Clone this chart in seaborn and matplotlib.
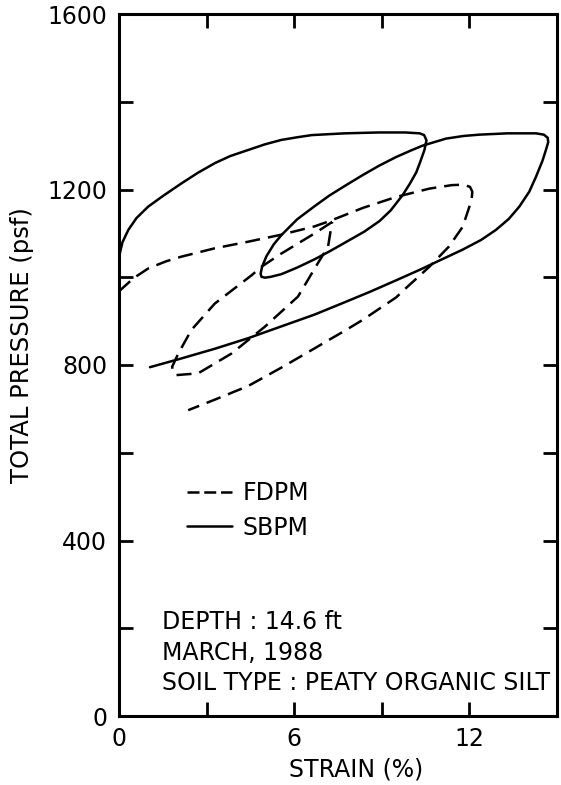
import matplotlib
matplotlib.use("Agg")
import matplotlib.pyplot as plt
from matplotlib.lines import Line2D
import seaborn as sns
import pandas as pd

# ---------------- data ----------------
# SBPM (solid) : one continuous path
sbpm_strain = [0.0, 0.03, 0.12, 0.32, 0.6, 1.0, 1.5, 2.14, 2.7, 3.28, 3.8, 4.42, 5.0, 5.56,
               6.1, 6.6, 7.73, 8.9, 9.8, 10.3, 10.45, 10.53, 10.46, 10.3, 10.18, 9.95, 9.71,
               9.3, 8.92, 8.4, 7.9, 7.21, 6.7, 6.1, 5.56, 5.2, 5.0, 4.88, 4.85, 4.9, 5.05,
               5.3, 5.56, 6.1, 6.7, 7.2, 7.73, 8.35, 8.9, 9.49, 10.0, 10.4, 10.8, 11.2, 11.8,
               12.34, 13.3, 14.28, 14.55, 14.68, 14.7, 14.62, 14.5, 14.28, 14.05, 13.71,
               13.35, 12.91, 12.4, 11.77, 10.97, 10.3, 9.49, 8.6, 7.73, 6.7, 5.56, 4.42,
               3.28, 2.14, 1.06]
sbpm_pressure = [1015, 1055, 1080, 1108, 1135, 1161, 1185, 1214, 1238, 1260, 1276, 1290, 1303,
                 1313, 1319, 1324, 1328, 1330, 1330, 1328, 1324, 1312, 1290, 1260, 1239, 1212,
                 1187, 1152, 1128, 1104, 1085, 1059, 1041, 1022, 1007, 1001, 999, 1001, 1008,
                 1024, 1048, 1075, 1096, 1132, 1162, 1186, 1208, 1233, 1254, 1274, 1289,
                 1300, 1308, 1316, 1322, 1325, 1328, 1328, 1325, 1318, 1308, 1290, 1265, 1229,
                 1195, 1161, 1133, 1108, 1085, 1063, 1038, 1017, 993, 967, 943, 915, 888,
                 861, 837, 815, 795]

# FDPM (dashed) : large path
fdpm1_strain = [0.0, 0.5, 1.0, 1.6, 2.14, 3.28, 4.42, 5.56, 6.7, 7.21, 8.35, 9.49, 10.63,
                11.4, 11.8, 12.02, 12.1, 12.08, 12.0, 11.77, 11.3, 10.63, 9.84, 9.49, 8.35,
                7.73, 7.21, 6.7, 5.56, 4.42, 3.28, 2.37]
fdpm1_pressure = [968, 998, 1020, 1036, 1047, 1066, 1081, 1097, 1116, 1128, 1158, 1183, 1202,
                  1210, 1211, 1206, 1195, 1180, 1161, 1115, 1070, 1024, 976, 954, 903,
                  878, 858, 838, 794, 752, 721, 697]

# FDPM (dashed) : small closed loop
fdpm2_strain = [7.3, 6.7, 5.56, 4.88, 4.55, 3.28, 2.48, 2.03, 1.82, 1.85, 1.97, 2.71, 3.85,
                4.99, 6.13, 6.81, 7.16, 7.27, 7.3]
fdpm2_pressure = [1126, 1100, 1054, 1024, 1005, 940, 880, 826, 796, 784, 777, 781, 826,
                  887, 956, 1032, 1070, 1115, 1126]

x_ticks = [0, 3, 6, 9, 12]
x_ticklabels = ["0", "", "6", "", "12"]
y_ticks = [0, 200, 400, 600, 800, 1000, 1200, 1400, 1600]
y_ticklabels = ["0", "", "400", "", "800", "", "1200", "", "1600"]

notes = ["DEPTH : 14.6 ft", "MARCH, 1988", "SOIL TYPE : PEATY ORGANIC SILT"]

# ---------------- figure ----------------
sns.set_style("ticks")
plt.rcParams["font.family"] = ["DejaVu Sans"]
plt.rcParams["text.color"] = "black"
plt.rcParams["axes.labelcolor"] = "black"
plt.rcParams["xtick.color"] = "black"
plt.rcParams["ytick.color"] = "black"

fig = plt.figure(figsize=(5.61, 7.85), dpi=100)
ax = fig.add_axes([119 / 561, 1 - 716 / 785, 438 / 561, 702 / 785])

LW = 1.8
DASH = (6, 3.2)

df_s = pd.DataFrame({"strain": sbpm_strain, "pressure": sbpm_pressure})
df_f1 = pd.DataFrame({"strain": fdpm1_strain, "pressure": fdpm1_pressure})
df_f2 = pd.DataFrame({"strain": fdpm2_strain, "pressure": fdpm2_pressure})

sns.lineplot(data=df_s, x="strain", y="pressure", sort=False, estimator=None,
             color="black", lw=LW, ax=ax, solid_joinstyle="round",
             solid_capstyle="round")
for d in (df_f1, df_f2):
    sns.lineplot(data=d, x="strain", y="pressure", sort=False, estimator=None,
                 color="black", lw=LW, ax=ax, dashes=False, linestyle=(0, DASH),
                 dash_joinstyle="round")

ax.set_xlim(0, 15)
ax.set_ylim(0, 1600)
ax.set_xticks(x_ticks)
ax.set_xticklabels(x_ticklabels)
ax.set_yticks(y_ticks)
ax.set_yticklabels(y_ticklabels)
ax.tick_params(axis="both", which="major", direction="in", length=10, width=2,
               top=True, right=True, labelsize=17, colors="black")
ax.tick_params(axis="x", pad=8)
ax.tick_params(axis="y", pad=8.5)
for sp in ax.spines.values():
    sp.set_linewidth(2.2)
    sp.set_color("black")

ax.set_xlabel("STRAIN (%)", fontsize=17, va="center")
ax.xaxis.set_label_coords((356 - 119) / 438, (716 - 770) / 702)
ax.set_ylabel("TOTAL PRESSURE (psf)", fontsize=17.5, va="center")
ax.yaxis.set_label_coords((22 - 119) / 438, (716 - 345) / 702)

handles = [Line2D([], [], color="black", lw=LW, linestyle=(0, (4.8, 1.9))),
           Line2D([], [], color="black", lw=LW)]
ax.legend(handles, ["FDPM", "SBPM"], loc="upper left",
          bbox_to_anchor=((187 - 119) / 438, (716 - 481) / 702),
          frameon=False, fontsize=17, handlelength=1.9, handletextpad=0.45,
          labelspacing=0.45, borderpad=0, borderaxespad=0)

for txt, yp in zip(notes, [622, 653, 683]):
    ax.text((162 - 119) / 438, (716 - yp) / 702, txt, transform=ax.transAxes,
            fontsize=17, ha="left", va="center", color="black")

fig.savefig("out.png", dpi=100)
